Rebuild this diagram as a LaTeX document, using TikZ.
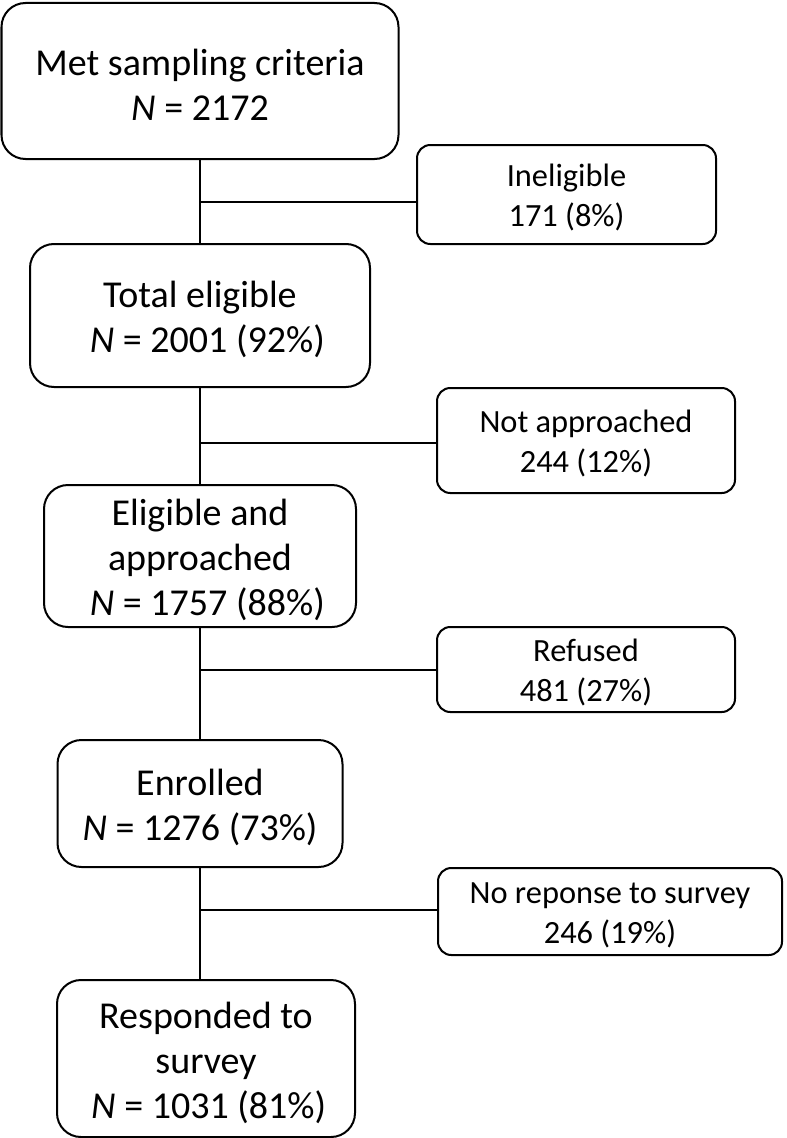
\documentclass[tikz,border=0pt]{standalone}
\usepackage{fontspec}
\setmainfont{Carlito}
\newcommand{\bigstrut}{\rule{0pt}{26pt}}
\newcommand{\smallstrut}{\rule{0pt}{21.5pt}}
\begin{document}
\begin{tikzpicture}[x=0.75pt,y=-0.75pt,
  box/.style={draw, line width=1.5pt, align=center, inner sep=0pt},
  big/.style={box, rounded corners=18pt, font=\fontsize{28.5}{33.75}\selectfont},
  small/.style={box, rounded corners=10pt, font=\fontsize{24.3}{30}\selectfont},
  link/.style={line width=1.5pt}]
\useasboundingbox (0,0) rectangle (787,1138);
% main column
\node[big, minimum width=297.75pt, minimum height=117pt] (met) at (200,81)
  {\bigstrut Met sampling criteria\\\textit{N} = 2172};
\node[big, minimum width=255pt, minimum height=107.25pt] (tot) at (200,315.5)
  {\bigstrut Total eligible\\\hspace*{11pt}\textit{N} = 2001 (92\%)};
\node[big, minimum width=234pt, minimum height=106.5pt] (elig) at (200,556)
  {\bigstrut Eligible and\\approached\\\hspace*{11pt}\textit{N} = 1757 (88\%)};
\node[big, minimum width=213.75pt, minimum height=95.25pt] (enr) at (200,803.5)
  {\bigstrut Enrolled\\\textit{N} = 1276 (73\%)};
\node[big, minimum width=223.5pt, minimum height=117.75pt] (resp) at (206,1058.5)
  {\bigstrut Responded to\\survey\\\hspace*{4pt}\textit{N} = 1031 (81\%)};
% side boxes
\node[small, minimum width=224.25pt, minimum height=74.25pt] (inel) at (566.5,194.5)
  {\smallstrut Ineligible\\171 (8\%)};
\node[small, minimum width=223.5pt, minimum height=78.75pt] (nota) at (586,440.5)
  {\smallstrut Not approached\\244 (12\%)};
\node[small, minimum width=223.5pt, minimum height=63.75pt] (ref) at (586,669.5)
  {\smallstrut Refused\\481 (27\%)};
\node[small, minimum width=258pt, minimum height=65.25pt] (nor) at (610,911.5)
  {\smallstrut No reponse to survey\\246 (19\%)};
% junctions
\coordinate (j1) at (200,202);
\coordinate (j2) at (200,443);
\coordinate (j3) at (200,670);
\coordinate (j4) at (200,910);
% spine
\draw[link] (met.south) -- (tot.north);
\draw[link] (tot.south) -- (elig.north);
\draw[link] (elig.south) -- (enr.north);
\draw[link] (enr.south) -- (enr.south |- resp.north);
% branches
\draw[link] (j1) -- (j1 -| inel.west);
\draw[link] (j2) -- (j2 -| nota.west);
\draw[link] (j3) -- (j3 -| ref.west);
\draw[link] (j4) -- (j4 -| nor.west);
\end{tikzpicture}
\end{document}
